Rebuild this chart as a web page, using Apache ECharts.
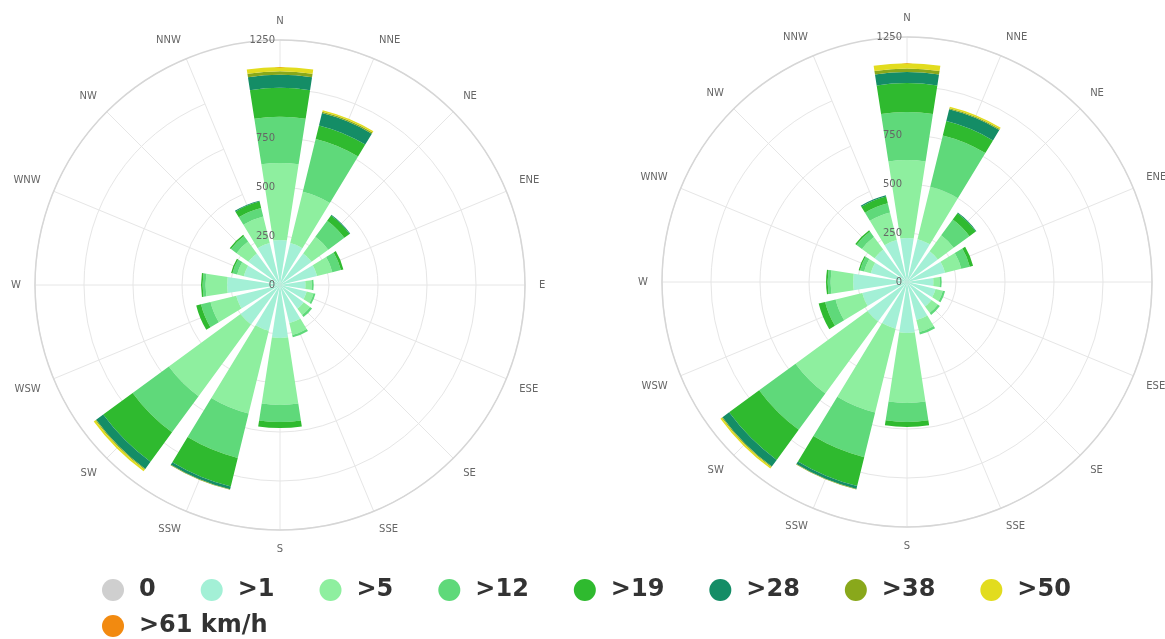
<!DOCTYPE html>
<html>
<head>
<meta charset="utf-8">
<script src="https://cdn.jsdelivr.net/npm/echarts@6/dist/echarts.min.js"></script>
<style>
html, body { margin: 0; padding: 0; background: #fff; }
#chart { width: 1165px; height: 639px; }
</style>
</head>
<body>
<div id="chart"></div>
<script>
// Compass directions, clockwise from north
const directions = ['N', 'NNE', 'NE', 'ENE', 'E', 'ESE', 'SE', 'SSE', 'S', 'SSW', 'SW', 'WSW', 'W', 'WNW', 'NW', 'NNW'];
// Wind speed classes
const speedBands = ['0', '>1', '>5', '>12', '>19', '>28', '>38', '>50', '>61 km/h'];
const bandColors = ['#cfcfcf', '#a3f0d6', '#8eef9f', '#5fd97a', '#2fba2f', '#148d66', '#89a81b', '#e2dc1e', '#f28a10'];
// Radial tick values and their labels
const radiusTicks = [0, 250, 500, 750, 1000, 1250];
const radiusTickLabels = ['0', '250', '500', '750', '', '1250'];

// Left rose: one array per speed class, N → NNW
const leftCalm = [0, 0, 0, 0, 0, 0, 0, 0, 0, 0, 0, 0, 0, 0, 0, 0];
const left1  = [230, 220, 200, 195, 130, 140, 150, 200, 270, 240, 250, 230, 270, 190, 200, 220];
const left5  = [393, 270, 105, 80, 32, 36, 40, 62, 342, 435, 453, 135, 110, 35, 75, 140];
const left12 = [235, 277, 102, 45, 10, 10, 13, 13, 87, 233, 229, 50, 15, 25, 35, 45];
const left19 = [148, 71, 33, 13, 0, 0, 0, 0, 31, 150, 186, 25, 8, 7, 8, 33];
const left28 = [66, 65, 4, 0, 0, 0, 0, 0, 0, 15, 45, 0, 0, 0, 0, 5];
const left38 = [18, 7, 0, 0, 0, 0, 0, 0, 0, 3, 5, 0, 0, 0, 0, 0];
const left50 = [22, 8, 0, 0, 0, 0, 0, 0, 0, 0, 10, 0, 0, 0, 0, 0];
const left61 = [0, 0, 0, 0, 0, 0, 0, 0, 0, 0, 0, 0, 0, 0, 0, 0];

// Right rose: one array per speed class, N → NNW
const rightCalm = [0, 0, 0, 0, 0, 0, 0, 0, 0, 0, 0, 0, 0, 0, 0, 0];
const right1  = [224, 225, 195, 200, 135, 150, 155, 200, 260, 245, 250, 235, 275, 190, 205, 220];
const right5  = [398, 275, 100, 85, 32, 38, 40, 63, 357, 440, 455, 140, 115, 35, 80, 145];
const right12 = [245, 270, 100, 45, 10, 12, 13, 13, 97, 235, 230, 55, 15, 22, 34, 48];
const right19 = [148, 75, 40, 17, 0, 0, 0, 0, 26, 152, 190, 34, 8, 7, 8, 36];
const right28 = [56, 62, 4, 0, 0, 0, 0, 0, 0, 15, 42, 0, 0, 0, 0, 6];
const right38 = [18, 6, 0, 0, 0, 0, 0, 0, 0, 3, 5, 0, 0, 0, 0, 0];
const right50 = [27, 8, 0, 0, 0, 0, 0, 0, 0, 0, 8, 0, 0, 0, 0, 0];
const right61 = [0, 0, 0, 0, 0, 0, 0, 0, 0, 0, 0, 0, 0, 0, 0, 0];

const leftBands = [leftCalm, left1, left5, left12, left19, left28, left38, left50, left61];
const rightBands = [rightCalm, right1, right5, right12, right19, right28, right38, right50, right61];

const FONT = 'DejaVu Sans';
const ROSE_RADIUS = 245;
const centers = [[280, 285], [907, 282]];

// Each rose uses two polar systems on the same spot:
// the first carries the spokes, rings and bars, the second the outer circle
// and the radial labels (the labels are drawn above the bars).
const polar = [];
const angleAxis = [];
const radiusAxis = [];
centers.forEach(function (c, k) {
  const base = k * 2;
  polar.push({ center: c, radius: ROSE_RADIUS });
  polar.push({ center: c, radius: ROSE_RADIUS });

  angleAxis.push({
    polarIndex: base,
    type: 'category',
    data: directions,
    boundaryGap: false,
    startAngle: 90,
    z: 0,
    axisLine: { show: false },
    axisTick: { show: false },
    axisLabel: { color: '#666', fontSize: 10, fontFamily: FONT, margin: 14 },
    splitLine: { show: true, lineStyle: { color: '#e6e6e6', width: 1 } }
  });
  angleAxis.push({
    polarIndex: base + 1,
    type: 'category',
    data: directions,
    boundaryGap: true,
    startAngle: 90,
    z: 0,
    axisLine: { show: true, lineStyle: { color: '#d6d6d6', width: 1.5 } },
    axisTick: { show: false },
    axisLabel: { show: false },
    splitLine: { show: false }
  });

  radiusAxis.push({
    polarIndex: base,
    type: 'value',
    min: 0,
    max: 1250,
    interval: 250,
    z: 0,
    axisLine: { show: false },
    axisTick: { show: false },
    axisLabel: { show: false },
    splitLine: { show: true, lineStyle: { color: '#e6e6e6', width: 1 } }
  });
  radiusAxis.push({
    polarIndex: base + 1,
    type: 'value',
    min: 0,
    max: 1250,
    interval: 250,
    z: 10,
    axisLine: { show: false },
    axisTick: { show: false },
    splitLine: { show: false },
    axisLabel: {
      color: '#666',
      fontSize: 10,
      fontFamily: FONT,
      margin: 5,
      padding: [0, 0, 7, 0],
      formatter: function (v) {
        const i = radiusTicks.indexOf(v);
        return i >= 0 ? radiusTickLabels[i] : '';
      }
    }
  });
});

const series = [];
[leftBands, rightBands].forEach(function (bands, k) {
  bands.forEach(function (values, i) {
    series.push({
      name: speedBands[i],
      type: 'bar',
      coordinateSystem: 'polar',
      polarIndex: k * 2,
      stack: 'rose' + k,
      barCategoryGap: '22%',
      itemStyle: { color: bandColors[i] },
      data: values
    });
  });
});

const legendStyle = {
  icon: 'circle',
  itemWidth: 22,
  itemHeight: 22,
  itemGap: 45,
  orient: 'horizontal',
  textStyle: { fontFamily: FONT, fontWeight: 'bold', fontSize: 24, color: '#333', padding: [0, 0, 0, 10] }
};

const option = {
  animation: false,
  backgroundColor: '#fff',
  color: bandColors,
  polar: polar,
  angleAxis: angleAxis,
  radiusAxis: radiusAxis,
  legend: [
    Object.assign({ data: speedBands.slice(0, 8), left: 97, top: 573 }, legendStyle),
    Object.assign({ data: speedBands.slice(8), left: 97, top: 609 }, legendStyle)
  ],
  series: series
};

const chart = echarts.init(document.getElementById('chart'), null, { renderer: 'canvas' });
chart.setOption(option);
</script>
</body>
</html>
